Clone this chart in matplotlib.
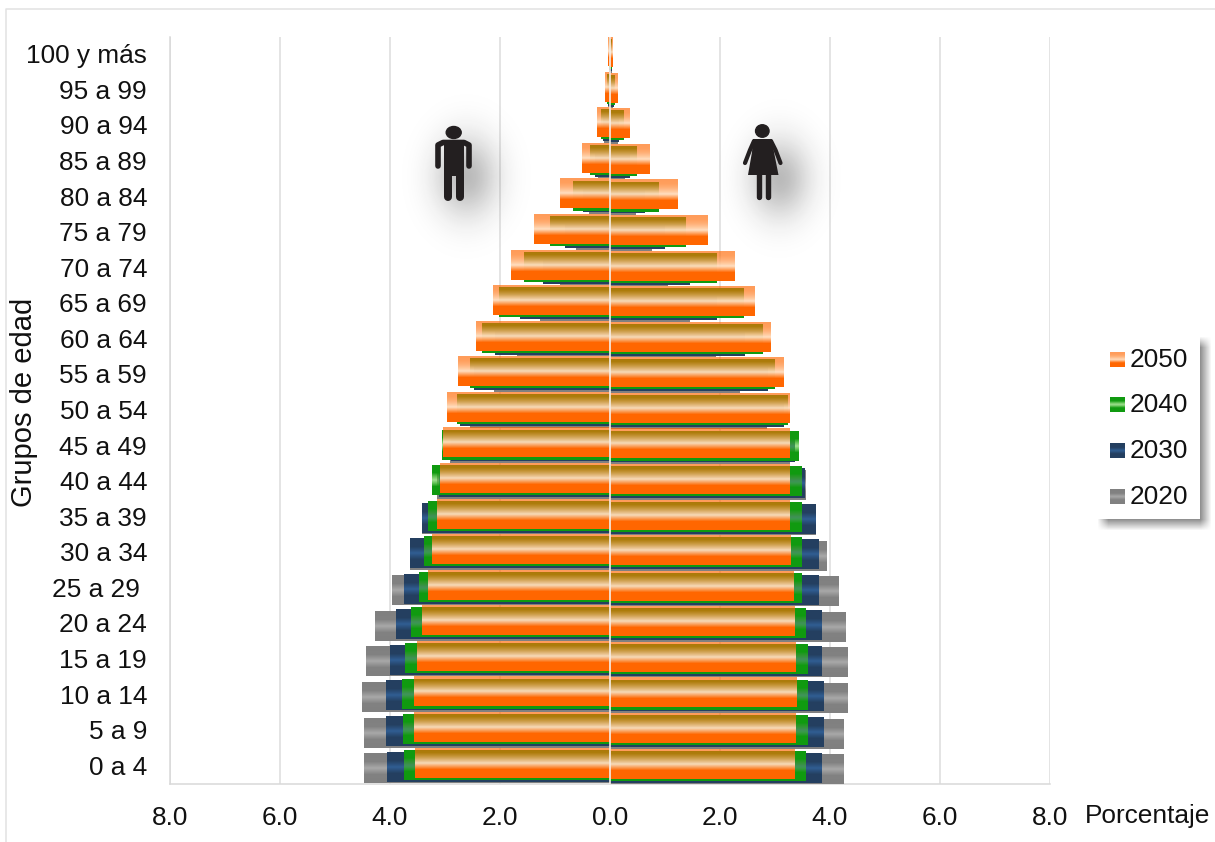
import numpy as np
import matplotlib
matplotlib.use("Agg")
import matplotlib.pyplot as plt
from matplotlib.patches import Rectangle, Polygon, Ellipse
from matplotlib.transforms import ScaledTranslation

plt.rcParams['font.family'] = ['Liberation Sans', 'DejaVu Sans']

age_groups = ['0 a 4', '5 a 9', '10 a 14', '15 a 19', '20 a 24', '25 a 29 ', '30 a 34',
              '35 a 39', '40 a 44', '45 a 49', '50 a 54', '55 a 59', '60 a 64', '65 a 69',
              '70 a 74', '75 a 79', '80 a 84', '85 a 89', '90 a 94', '95 a 99', '100 y más']

# Share of the population (%) by sex, age group and projection year
men_2020 = [4.47, 4.47, 4.51, 4.44, 4.27, 3.96, 3.64, 3.42, 3.15, 2.91, 2.55, 2.11, 1.69, 1.27,
            0.91, 0.62, 0.38, 0.22, 0.11, 0.03, 0.01]
men_2030 = [4.05, 4.07, 4.07, 4.00, 3.89, 3.75, 3.64, 3.42, 3.11, 2.89, 2.73, 2.47, 2.09, 1.64,
            1.22, 0.82, 0.49, 0.27, 0.13, 0.04, 0.01]
men_2040 = [3.75, 3.76, 3.78, 3.73, 3.62, 3.47, 3.38, 3.31, 3.24, 3.05, 2.78, 2.55, 2.33, 2.02,
            1.56, 1.09, 0.67, 0.36, 0.16, 0.05, 0.01]
men_2050 = [3.55, 3.56, 3.56, 3.51, 3.42, 3.31, 3.23, 3.15, 3.09, 3.04, 2.96, 2.76, 2.44, 2.13,
            1.80, 1.38, 0.91, 0.51, 0.24, 0.09, 0.04]

women_2020 = [4.25, 4.25, 4.31, 4.31, 4.29, 4.16, 3.93, 3.73, 3.56, 3.27, 2.85, 2.36, 1.91, 1.45,
              1.05, 0.75, 0.47, 0.27, 0.13, 0.05, 0.02]
women_2030 = [3.85, 3.89, 3.89, 3.85, 3.84, 3.80, 3.80, 3.73, 3.53, 3.35, 3.16, 2.87, 2.44, 1.93,
              1.45, 1.00, 0.62, 0.35, 0.16, 0.07, 0.02]
women_2040 = [3.56, 3.60, 3.60, 3.60, 3.55, 3.49, 3.49, 3.49, 3.49, 3.42, 3.22, 3.00, 2.78, 2.42,
              1.93, 1.38, 0.89, 0.49, 0.24, 0.09, 0.02]
women_2050 = [3.36, 3.38, 3.40, 3.38, 3.36, 3.33, 3.29, 3.27, 3.27, 3.27, 3.27, 3.16, 2.91, 2.62,
              2.27, 1.78, 1.22, 0.71, 0.35, 0.13, 0.04]

years = ['2020', '2030', '2040', '2050']
men = [men_2020, men_2030, men_2040, men_2050]
women = [women_2020, women_2030, women_2040, women_2050]

W, H = 1215, 842
AX_L, AX_R, AX_T, AX_B = 170, 1050, 37, 784
ROW_PX = (AX_B - AX_T) / len(age_groups)
BAR_H = 29.6 / ROW_PX
SHIFT_PX = [2.2, 0.6, -1.3, -3.4]   # later years sit slightly higher in each row


def ramp(stops, n=30):
    """Vertical RGBA ramp; row 0 is the top edge of the bar."""
    t = np.linspace(0, 1, n)
    pos = [s[0] for s in stops]
    out = np.zeros((n, 1, 4))
    for c in range(4):
        out[:, 0, c] = np.interp(t, pos, [s[1][c] for s in stops])
    return out


def rgba(r, g, b, a=1.0):
    return (r / 255, g / 255, b / 255, a)


GRADS = {
    '2020': ramp([(0, rgba(128, 128, 128)), (0.28, rgba(130, 130, 130)),
                  (0.5, rgba(168, 168, 168)), (0.72, rgba(130, 130, 130)), (1, rgba(128, 128, 128))]),
    '2030': ramp([(0, rgba(36, 63, 96)), (0.28, rgba(36, 63, 96)),
                  (0.5, rgba(48, 94, 146)), (0.72, rgba(36, 63, 96)), (1, rgba(36, 63, 96))]),
    '2040': ramp([(0, rgba(16, 154, 16)), (0.25, rgba(16, 154, 16)),
                  (0.5, rgba(80, 198, 50, 0.54)), (0.72, rgba(16, 154, 16)), (1, rgba(16, 154, 16))]),
    '2050': ramp([(0, rgba(255, 102, 0, 0.65)), (0.14, rgba(255, 110, 10, 0.66)),
                  (0.5, rgba(255, 222, 190, 0.96)), (0.72, rgba(255, 102, 0)), (1, rgba(255, 102, 0))]),
}

fig = plt.figure(figsize=(W / 100, H / 100), dpi=100, facecolor='white')
ax = fig.add_axes([AX_L / W, 1 - AX_B / H, (AX_R - AX_L) / W, (AX_B - AX_T) / H])
ypos = np.arange(len(age_groups))

ax.set_axisbelow(True)
ax.grid(axis='x', color='#DCDCDC', lw=1.1)
for year, shift, m_vals, w_vals, z in zip(years, SHIFT_PX, men, women, range(3, 7)):
    left = ax.barh(ypos - shift / ROW_PX, -np.array(m_vals), height=BAR_H, color='none', zorder=z, label=year)
    right = ax.barh(ypos - (shift + 1) / ROW_PX, w_vals, height=BAR_H, color='none', zorder=z)
    for bar in list(left) + list(right):
        x0, x1 = sorted((bar.get_x(), bar.get_x() + bar.get_width()))
        y0, y1 = bar.get_y(), bar.get_y() + bar.get_height()
        ax.imshow(GRADS[year], extent=(x0, x1, y0, y1), aspect='auto', origin='upper',
                  interpolation='nearest', zorder=z)

ax.axvline(0, color='#F6EFE8', lw=1.2, zorder=10)

ax.set_xlim(-8, 8)
ax.set_ylim(-0.5, len(age_groups) - 0.5)
xt = np.arange(-8, 9, 2)
ax.set_xticks(xt)
ax.set_xticklabels([f'{abs(v):.1f}' for v in xt], fontsize=18.9, color='#111111')
ax.set_yticks(ypos)
ax.set_yticklabels(age_groups, fontsize=18.9, color='#111111')
ax.tick_params(axis='both', length=0)
ax.tick_params(axis='x', pad=15.5)
ax.tick_params(axis='y', pad=16.5)
lift = ScaledTranslation(0, 1 / 100, fig.dpi_scale_trans)
for lab in ax.get_yticklabels():
    lab.set_transform(lab.get_transform() + lift)
for side in ('top', 'right'):
    ax.spines[side].set_visible(False)
for side in ('left', 'bottom'):
    ax.spines[side].set_color('#D9D9D9')
    ax.spines[side].set_linewidth(1.1)

# Pixel-space layer for the frame, sex icons and legend panel
ov = fig.add_axes([0, 0, 1, 1], zorder=20)
ov.set_xlim(0, W)
ov.set_ylim(H, 0)
ov.axis('off')
ov.patch.set_alpha(0)

ov.plot([6, 6, W], [H, 8.5, 8.5], color='#E2E2E2', lw=1.1, solid_capstyle='butt')


def soft_blob(cx, cy, sx, sy, peak):
    xx, yy = np.meshgrid(np.arange(cx - 110, cx + 110), np.arange(cy - 110, cy + 110))
    d = np.exp(-((xx - cx) / sx) ** 2 / 2 - ((yy - cy) / sy) ** 2 / 2)
    img = np.zeros(d.shape + (4,))
    img[..., :3] = 0.1
    img[..., 3] = peak * d
    ov.imshow(img, extent=(cx - 110, cx + 110, cy + 110, cy - 110), aspect='auto', zorder=1)


soft_blob(466, 176, 22, 28, 0.30)
soft_blob(779, 178, 21, 27, 0.30)

ICON = '#231F20'


def stroke(xs, ys, width):
    ov.plot(xs, ys, color=ICON, lw=width * 0.72, solid_capstyle='round', solid_joinstyle='round', zorder=3)


# Man
ov.add_patch(Ellipse((453.7, 132.5), 15, 12, color=ICON, zorder=3))
ov.add_patch(Rectangle((444, 141), 20, 35, color=ICON, lw=0, zorder=3))
stroke([438, 438, 443, 464, 469, 469], [166, 145, 142.5, 142.5, 145, 166], 5.6)
stroke([448, 448], [172, 197], 8.0)
stroke([460, 460], [172, 197], 8.0)
# Woman
ov.add_patch(Ellipse((762.3, 131), 13.5, 12.5, color=ICON, zorder=3))
ov.add_patch(Polygon([(753, 139), (772, 139), (774, 152), (778.5, 175), (748, 175), (752, 152)],
                     closed=True, color=ICON, lw=0, zorder=3))
stroke([754, 750, 745], [141, 150, 163], 4.2)
stroke([771, 775.5, 780.5], [141, 150, 163], 4.2)
stroke([759, 759], [173, 197], 5.4)
stroke([768, 768], [173, 197], 5.4)

# Legend panel with its soft drop shadow
bx0, bx1, by0, by1 = 1098, 1200, 337, 519
px, py = np.meshgrid(np.arange(1080, W) + 0.5, np.arange(320, 542) + 0.5)
blur = 11
sx = np.clip((px - bx0 - 5) / blur + 0.5, 0, 1) * np.clip((bx1 + 6 - px) / blur + 0.5, 0, 1)
sy = np.clip((py - by0 - 5) / blur + 0.5, 0, 1) * np.clip((by1 + 6 - py) / blur + 0.5, 0, 1)
shadow = np.zeros(px.shape + (4,))
shadow[..., :3] = 0.3
shadow[..., 3] = 0.62 * sx * sy
ov.imshow(shadow, extent=(1080, W, 542, 320), aspect='auto', zorder=4)
ov.add_patch(Rectangle((bx0, by0), bx1 - bx0, by1 - by0, facecolor='white', edgecolor='none', zorder=5))

for year, yc in zip(years[::-1], [359.5, 405, 451, 496.5]):
    ov.imshow(GRADS[year], extent=(1110, 1125, yc + 7.5, yc - 7.5), aspect='auto',
              interpolation='bilinear', zorder=6)
    ov.text(1130, yc + 0.5, year, fontsize=18.9, color='#111111', va='center', ha='left', zorder=7)

ov.text(1085, 816, 'Porcentaje', fontsize=18.9, color='#111111', va='center', ha='left')
ov.text(24, 402.5, 'Grupos de edad', fontsize=21, color='#111111', rotation=90, va='center', ha='center')

ov.set_xlim(0, W)
ov.set_ylim(H, 0)

fig.savefig('out.png', dpi=100)
